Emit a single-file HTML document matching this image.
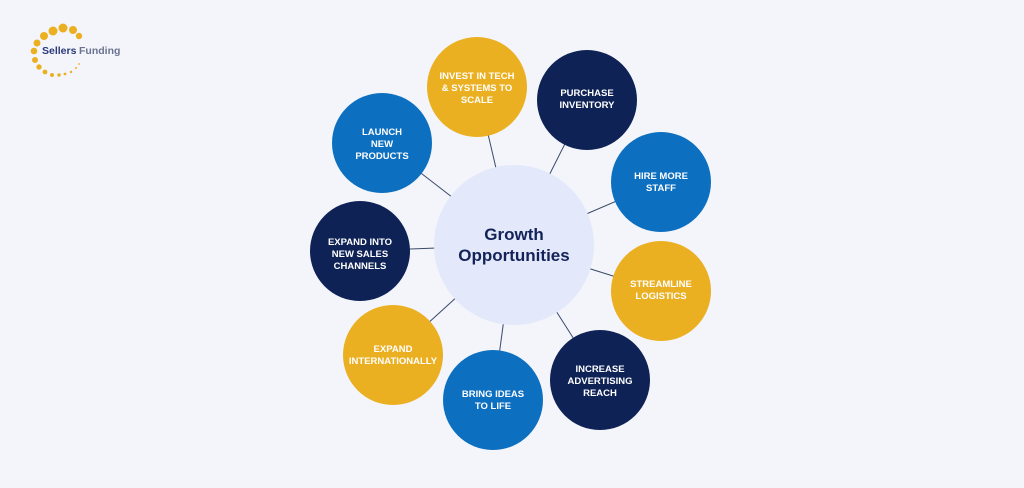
<!DOCTYPE html>
<html><head><meta charset="utf-8"><style>
html,body{margin:0;padding:0;background:#f3f5fa;}
svg{display:block;}
text{font-family:"Liberation Sans",sans-serif;font-weight:bold;}
</style></head><body>
<svg width="1024" height="488" viewBox="0 0 1024 488" xmlns="http://www.w3.org/2000/svg">
<rect width="1024" height="488" fill="#f3f5fa"/>
<!-- logo -->
<g fill="#ebb022">
<circle cx="53" cy="31" r="4.5"/><circle cx="63" cy="28" r="4.5"/><circle cx="73" cy="30" r="4"/><circle cx="79" cy="36" r="3.2"/>
<circle cx="44" cy="36" r="4"/><circle cx="37" cy="43" r="3.5"/><circle cx="34" cy="51" r="3.3"/><circle cx="35" cy="60" r="3"/>
<circle cx="39" cy="67" r="2.7"/><circle cx="45" cy="72" r="2.4"/><circle cx="52" cy="75" r="2"/><circle cx="59" cy="75" r="1.7"/><circle cx="65" cy="74" r="1.4"/><circle cx="71" cy="72" r="1.2"/><circle cx="76" cy="68" r="1"/><circle cx="79" cy="64" r="0.9"/>
</g>
<text x="42" y="54" font-size="10.5" fill="#2a3a7a">Sellers</text>
<text x="79" y="54" font-size="10.5" fill="#6b7390" font-weight="normal">Funding</text>
<!-- connectors -->
<g stroke="#3a4a6a" stroke-width="1">
<line x1="514" y1="245" x2="477" y2="87"/>
<line x1="514" y1="245" x2="587" y2="100"/>
<line x1="514" y1="245" x2="661" y2="182"/>
<line x1="514" y1="245" x2="661" y2="291"/>
<line x1="514" y1="245" x2="600" y2="380"/>
<line x1="514" y1="245" x2="493" y2="400"/>
<line x1="514" y1="245" x2="393" y2="355"/>
<line x1="514" y1="245" x2="360" y2="251"/>
<line x1="514" y1="245" x2="382" y2="143"/>
</g>
<circle cx="514" cy="245" r="80" fill="#e3e8fa"/>
<text x="514" y="240" font-size="17" fill="#13235a" text-anchor="middle">Growth</text>
<text x="514" y="261" font-size="17" fill="#13235a" text-anchor="middle">Opportunities</text>
<g font-size="9.5" fill="#fff" text-anchor="middle">
<circle cx="477" cy="87" r="50" fill="#ebb022"/>
<text x="477" y="79">INVEST IN TECH</text><text x="477" y="91">&amp; SYSTEMS TO</text><text x="477" y="103">SCALE</text>
<circle cx="587" cy="100" r="50" fill="#0f2256"/>
<text x="587" y="96">PURCHASE</text><text x="587" y="108">INVENTORY</text>
<circle cx="661" cy="182" r="50" fill="#0d6fc0"/>
<text x="661" y="179">HIRE MORE</text><text x="661" y="191">STAFF</text>
<circle cx="661" cy="291" r="50" fill="#ebb022"/>
<text x="661" y="287">STREAMLINE</text><text x="661" y="299">LOGISTICS</text>
<circle cx="600" cy="380" r="50" fill="#0f2256"/>
<text x="600" y="372">INCREASE</text><text x="600" y="384">ADVERTISING</text><text x="600" y="396">REACH</text>
<circle cx="493" cy="400" r="50" fill="#0d6fc0"/>
<text x="493" y="397">BRING IDEAS</text><text x="493" y="409">TO LIFE</text>
<circle cx="393" cy="355" r="50" fill="#ebb022"/>
<text x="393" y="352">EXPAND</text><text x="393" y="364">INTERNATIONALLY</text>
<circle cx="360" cy="251" r="50" fill="#0f2256"/>
<text x="360" y="245">EXPAND INTO</text><text x="360" y="257">NEW SALES</text><text x="360" y="269">CHANNELS</text>
<circle cx="382" cy="143" r="50" fill="#0d6fc0"/>
<text x="382" y="135">LAUNCH</text><text x="382" y="147">NEW</text><text x="382" y="159">PRODUCTS</text>
</g>
</svg>
</body></html>
